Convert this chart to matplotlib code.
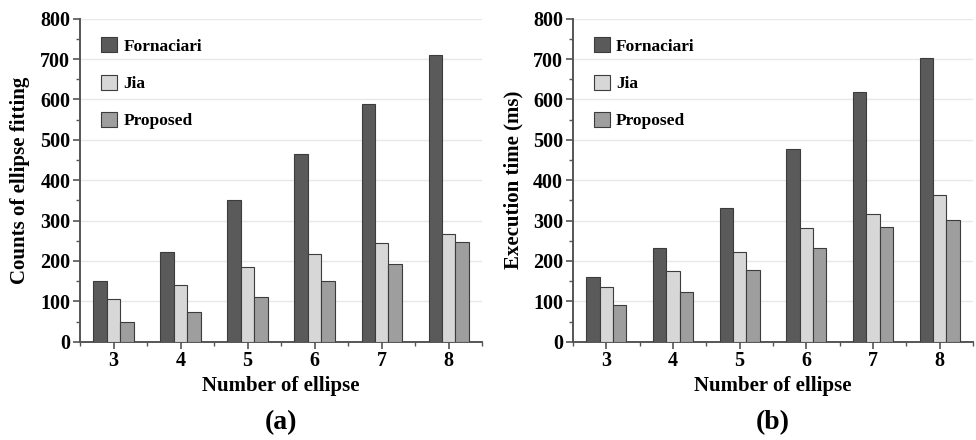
import numpy as np
from matplotlib import pyplot as plt
from matplotlib.ticker import MultipleLocator

# Number of ellipses in the test images
n_ellipse = [3, 4, 5, 6, 7, 8]
methods = ['Fornaciari', 'Jia', 'Proposed']

# (a) counts of ellipse fitting
counts_fornaciari = [150, 223, 350, 464, 590, 709]
counts_jia = [107, 140, 185, 218, 245, 268]
counts_proposed = [48, 73, 110, 150, 192, 246]

# (b) execution time in ms
time_fornaciari = [160, 232, 332, 477, 618, 702]
time_jia = [136, 175, 222, 282, 316, 364]
time_proposed = [91, 123, 177, 233, 283, 302]

colors = ['#5a5a5a', '#d7d7d7', '#9e9e9e']
edge = '#3c3c3c'

plt.rcParams['font.family'] = ['Liberation Serif', 'DejaVu Serif']
plt.rcParams['font.weight'] = 'bold'


def draw_panel(ax, series, ylabel, tag):
    x = np.array(n_ellipse, dtype=float)
    width = 0.2
    for i, (vals, name) in enumerate(zip(series, methods)):
        ax.bar(x + (i - 1) * width, vals, width, color=colors[i],
               edgecolor=edge, linewidth=0.8, label=name, zorder=3)

    ax.set_xlim(2.5, 8.5)
    ax.set_ylim(0, 800)
    ax.set_xticks(n_ellipse)
    ax.xaxis.set_minor_locator(MultipleLocator(0.5))
    ax.yaxis.set_major_locator(MultipleLocator(100))
    ax.yaxis.set_minor_locator(MultipleLocator(50))
    ax.tick_params(axis='both', which='major', direction='out', length=5,
                   width=1.2, color='#555555', labelsize=14.5, pad=2)
    ax.tick_params(axis='both', which='minor', direction='out', length=3,
                   width=1.0, color='#555555')
    for lbl in ax.get_xticklabels() + ax.get_yticklabels():
        lbl.set_fontweight('bold')

    for side in ('top', 'right'):
        ax.spines[side].set_visible(False)
    for side in ('left', 'bottom'):
        ax.spines[side].set_color('#555555')
        ax.spines[side].set_linewidth(1.4)

    ax.yaxis.grid(True, color='#e8e8e8', linewidth=1.0, zorder=0)
    ax.set_axisbelow(True)

    ax.set_xlabel('Number of ellipse', fontsize=15, fontweight='bold',
                  labelpad=3)
    ax.set_ylabel(ylabel, fontsize=15, fontweight='bold', labelpad=7)

    ax.legend(loc='upper left', bbox_to_anchor=(0.03, 0.97), frameon=False,
              borderpad=0, handlelength=0.95, handleheight=0.95,
              handletextpad=0.35, labelspacing=1.15,
              prop={'size': 12.5, 'weight': 'bold'})

    ax.text(0.5, -0.25, tag, transform=ax.transAxes, ha='center',
            va='center', fontsize=20, fontweight='bold')


fig = plt.figure(figsize=(9.76, 4.40), dpi=100)
ax_a = fig.add_axes([0.082, 0.2234, 0.412, 0.734])
ax_b = fig.add_axes([0.587, 0.2234, 0.41, 0.734])

draw_panel(ax_a, [counts_fornaciari, counts_jia, counts_proposed],
           'Counts of ellipse fitting', '(a)')
draw_panel(ax_b, [time_fornaciari, time_jia, time_proposed],
           'Execution time (ms)', '(b)')

fig.savefig('out.png', dpi=100)
plt.close(fig)
